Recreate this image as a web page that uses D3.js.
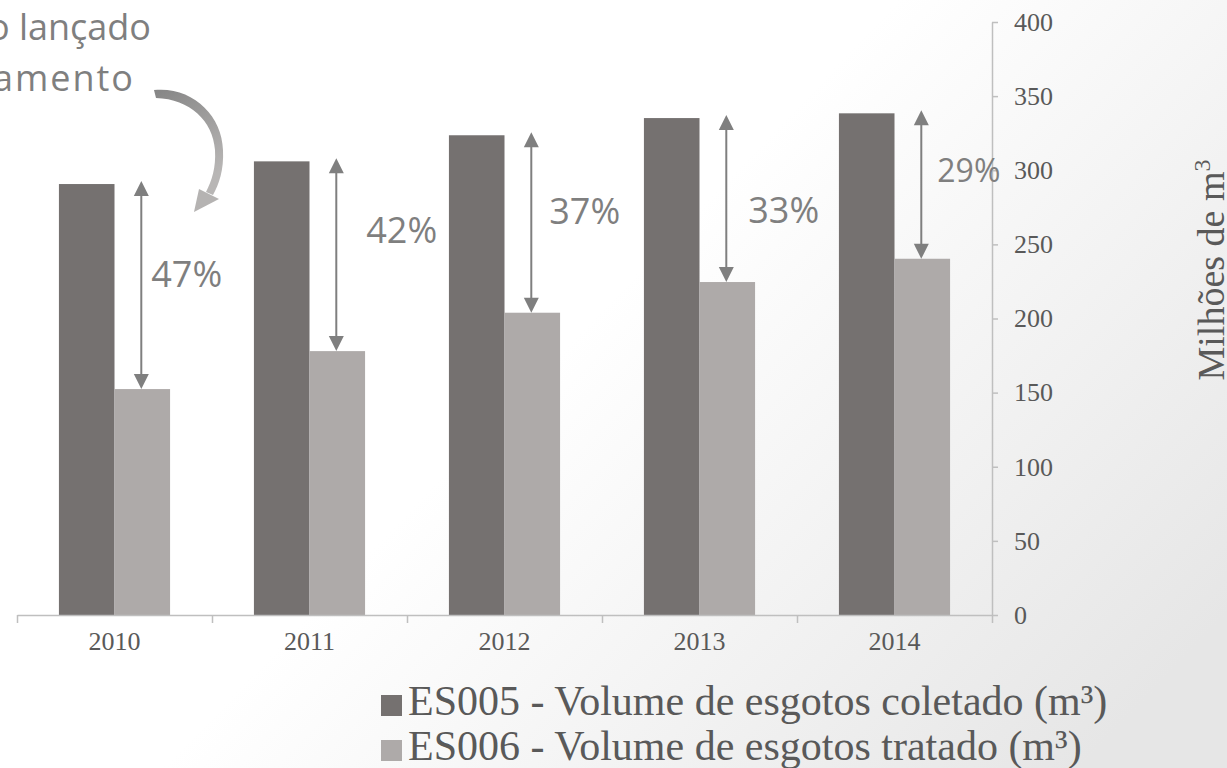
<!DOCTYPE html>
<html>
<head>
<meta charset="utf-8">
<title>Volume de esgotos coletado x tratado</title>
<script src="https://cdn.jsdelivr.net/npm/d3@7"></script>
<style>
  body { margin: 0; background: #fff; }
  .tick text { font-family: "Liberation Serif", "Times New Roman", serif; }
</style>
</head>
<body>
<script>
// data (milhoes de m3)
var years = ["2010", "2011", "2012", "2013", "2014"];
var coletado = [290.7, 306, 323.6, 335.2, 338.4];
var tratado = [152.4, 178, 203.9, 224.6, 240.3];
var gapLabels = ["47%", "42%", "37%", "33%", "29%"];
var yTicks = [0, 50, 100, 150, 200, 250, 300, 350, 400];
var seriesNames = ["ES005 - Volume de esgotos coletado (m³)", "ES006 - Volume de esgotos tratado (m³)"];

// where the % labels sit next to each arrow (layout only)
var labelDx = [10, 30, 18, 22, 16];
var labelDy = [106, 85, 92, 108, 72];
var labelSize = [36, 36, 36, 36, 32];

var W = 1227, H = 768;
var plotL = 17, plotR = 992, plotT = 22, plotB = 615;
var dark = "#757170", light = "#aeaaa9", axisCol = "#bfbfbf", textCol = "#595959";

var svg = d3.select("body").append("svg")
  .attr("width", W).attr("height", H);

// soft background
var defs = svg.append("defs");
var bg = defs.append("linearGradient").attr("id", "bg")
  .attr("x1", 0).attr("y1", 0.2).attr("x2", 1).attr("y2", 0.8);
bg.append("stop").attr("offset", "0%").attr("stop-color", "#ffffff");
bg.append("stop").attr("offset", "45%").attr("stop-color", "#ffffff");
bg.append("stop").attr("offset", "100%").attr("stop-color", "#e6e6e6");
var rib = defs.append("linearGradient").attr("id", "rib")
  .attr("x1", 0).attr("y1", 0).attr("x2", 0.4).attr("y2", 1);
rib.append("stop").attr("offset", "0%").attr("stop-color", "#858585");
rib.append("stop").attr("offset", "100%").attr("stop-color", "#b8b6b5");

svg.append("rect").attr("width", W).attr("height", H).attr("fill", "url(#bg)");

// scales
var x = d3.scaleBand().domain(years).range([plotL, plotR]).paddingInner(0.43).paddingOuter(0.215);
var x1 = d3.scaleBand().domain([0, 1]).range([0, x.bandwidth()]);
var y = d3.scaleLinear().domain([0, 400]).range([plotB, plotT]);
var xEdge = d3.scaleLinear().domain([0, years.length]).range([plotL, plotR]);

// bars
var groups = svg.append("g").selectAll("g")
  .data(years).enter().append("g")
  .attr("transform", function(d) { return "translate(" + x(d) + ",0)"; });

groups.append("rect")
  .attr("x", x1(0)).attr("width", x1.bandwidth())
  .attr("y", function(d, i) { return y(coletado[i]); })
  .attr("height", function(d, i) { return y(0) - y(coletado[i]); })
  .attr("fill", dark);

groups.append("rect")
  .attr("x", x1(1)).attr("width", x1.bandwidth())
  .attr("y", function(d, i) { return y(tratado[i]); })
  .attr("height", function(d, i) { return y(0) - y(tratado[i]); })
  .attr("fill", light);

// x axis: boundary ticks + year labels
var xAxisG = svg.append("g").attr("transform", "translate(0," + plotB + ")");
xAxisG.call(d3.axisBottom(xEdge).ticks(years.length).tickFormat("").tickSizeInner(8).tickSizeOuter(0));
xAxisG.selectAll("path, line").attr("stroke", axisCol).attr("stroke-width", 1.5);

var xLab = svg.append("g").attr("transform", "translate(0," + plotB + ")")
  .call(d3.axisBottom(x).tickSize(0).tickPadding(17));
xLab.select(".domain").remove();
xLab.selectAll("text").attr("font-size", 26).attr("fill", textCol);

// y axis on the right
var yAxisG = svg.append("g").attr("transform", "translate(" + plotR + ",0)")
  .call(d3.axisRight(y).tickValues(yTicks).tickSizeInner(6).tickSizeOuter(0).tickPadding(16));
yAxisG.selectAll("path, line").attr("stroke", axisCol).attr("stroke-width", 1.5);
yAxisG.selectAll("text").attr("font-size", 26).attr("fill", textCol);

svg.append("text")
  .attr("transform", "translate(1224,270) rotate(-90)")
  .attr("text-anchor", "middle")
  .attr("font-family", "Liberation Serif, serif")
  .attr("font-size", 38).attr("fill", textCol)
  .text("Milhões de m")
  .append("tspan").attr("font-size", 24).attr("dy", -14).text("3");

// double arrows between the two bars
var arrowCol = "#7f7f7f";
var ah = 15, aw = 7.5;
years.forEach(function(yr, i) {
  var ax = x(yr) + x1(1) + x1.bandwidth() / 2 - 1;
  var yTop = y(coletado[i]) - 3, yBot = y(tratado[i]);
  svg.append("line")
    .attr("x1", ax).attr("x2", ax)
    .attr("y1", yTop + ah - 1).attr("y2", yBot - ah + 1)
    .attr("stroke", arrowCol).attr("stroke-width", 2);
  svg.append("path")
    .attr("d", "M" + ax + "," + yTop + "L" + (ax + aw) + "," + (yTop + ah) + "L" + (ax - aw) + "," + (yTop + ah) + "Z")
    .attr("fill", arrowCol);
  svg.append("path")
    .attr("d", "M" + ax + "," + yBot + "L" + (ax + aw) + "," + (yBot - ah) + "L" + (ax - aw) + "," + (yBot - ah) + "Z")
    .attr("fill", arrowCol);
  svg.append("text")
    .attr("x", ax + labelDx[i])
    .attr("y", yTop + labelDy[i])
    .attr("font-family", "Open Sans, sans-serif")
    .attr("font-size", labelSize[i])
    .attr("fill", arrowCol)
    .text(gapLabels[i]);
});

// callout text, cut at the left edge
var callout = svg.append("g")
  .attr("font-family", "Open Sans, sans-serif")
  .attr("font-size", 36)
  .attr("fill", "#7f7f7f")
  .attr("text-anchor", "end");
callout.append("text").attr("x", 151).attr("y", 40).text("Volume de esgoto lançado");
callout.append("text").attr("x", 135).attr("y", 91).attr("letter-spacing", 2).text("sem tratamento");

// curved ribbon arrow
svg.append("path")
  .attr("d", "M154,90 C192,86 222,115 223,150 C224,170 219,184 213,195 L206,192 C212,180 216,168 215,150 C213,121 190,99 156,98 Z")
  .attr("fill", "url(#rib)");
svg.append("path")
  .attr("d", "M194,212 L199,189 L219,199 Z")
  .attr("fill", "#b5b3b2");

// legend
var legend = svg.append("g")
  .attr("font-family", "Liberation Serif, serif")
  .attr("font-size", 42).attr("fill", textCol);
[dark, light].forEach(function(c, i) {
  var base = 715 + i * 45;
  legend.append("rect").attr("x", 381).attr("y", base - 20).attr("width", 21).attr("height", 21).attr("fill", c);
  legend.append("text").attr("x", 408).attr("y", base).text(seriesNames[i]);
});
</script>
</body>
</html>
